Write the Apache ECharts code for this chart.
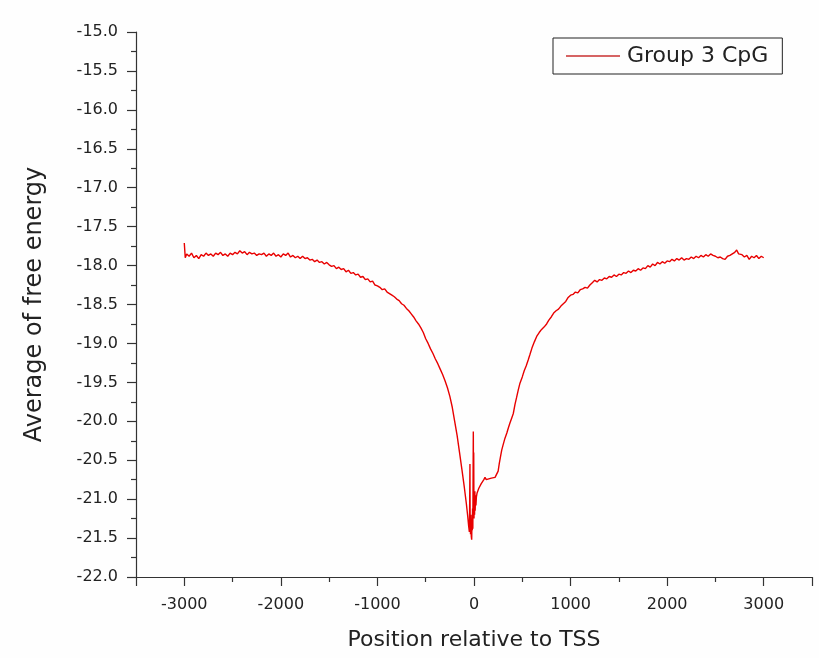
<!DOCTYPE html>
<html>
<head>
<meta charset="utf-8">
<script src="https://cdn.jsdelivr.net/npm/echarts@6/dist/echarts.min.js"></script>
<style>html,body{margin:0;padding:0;background:#fefefe;}#c{width:819px;height:658px;}</style>
</head>
<body>
<div id="c"></div>
<script>
const seriesName = 'Group 3 CpG';
const xTitle = 'Position relative to TSS';
const yTitle = 'Average of free energy';
const xMajorTicks = [-3500,-3000,-2000,-1000,0,1000,2000,3000,3500];
const xLabelTicks = [-3000,-2000,-1000,0,1000,2000,3000];
const xMinorTicks = [-2500,-1500,-500,500,1500,2500];
const positions = [
-3000,-2990,-2975,-2950,-2925,-2900,-2875,-2850,-2825,-2800,-2775,-2750,-2725,-2700,-2675,-2650,-2625,-2600,-2575,-2550,-2525,-2500,
-2475,-2450,-2425,-2400,-2375,-2350,-2325,-2300,-2275,-2250,-2225,-2200,-2175,-2150,-2125,-2100,-2075,-2050,-2025,-2000,
-1975,-1950,-1925,-1900,-1875,-1850,-1825,-1800,-1775,-1750,-1725,-1700,-1675,-1650,-1625,-1600,-1575,-1550,-1525,-1500,
-1475,-1450,-1425,-1400,-1375,-1350,-1325,-1300,-1275,-1250,-1225,-1200,-1175,-1150,-1125,-1100,-1075,-1050,-1025,-1000,
-975,-950,-925,-900,-875,-850,-825,-800,-775,-750,-725,-700,-675,-650,-625,-600,-575,-550,-525,-500,
-475,-450,-425,-400,-375,-350,-325,-300,-275,-250,-225,-200,-175,-150,-125,-100,-80,-65,-55,-48,
-45,-42,-40,-36,-32,-28,-24,-21,-18,-15,-12,-9,-7,-5,-3,0,3,6,9,12,16,20,25,32,40,50,62,75,90,
102,114,127,140,153,166,180,200,218,235,250,262,275,287,300,320,340,357,373,390,407,425,440,458,476,
500,520,540,562,580,600,625,649,675,700,725,752,775,800,825,850,875,900,925,950,975,1000,
1025,1050,1075,1100,1125,1150,1175,1200,1225,1250,1275,1300,1325,1350,1375,1400,1425,1450,1475,1500,
1525,1550,1575,1600,1625,1650,1675,1700,1725,1750,1775,1800,1825,1850,1875,1900,1925,1950,1975,2000,
2025,2050,2075,2100,2125,2150,2175,2200,2225,2250,2275,2300,2325,2350,2375,2400,2425,2450,2475,2500,
2525,2550,2575,2600,2625,2650,2675,2700,2720,2740,2760,2775,2800,2825,2850,2875,2900,2925,2950,2975,3000
];
const energies = [
-17.71,-17.90,-17.85,-17.88,-17.84,-17.90,-17.87,-17.91,-17.86,-17.88,-17.84,-17.87,-17.85,-17.88,-17.84,-17.86,-17.83,-17.87,-17.85,-17.88,-17.84,-17.86,
-17.83,-17.85,-17.81,-17.84,-17.82,-17.86,-17.83,-17.85,-17.84,-17.87,-17.85,-17.86,-17.84,-17.88,-17.85,-17.87,-17.84,-17.88,-17.86,-17.89,
-17.85,-17.87,-17.84,-17.89,-17.87,-17.90,-17.88,-17.91,-17.88,-17.91,-17.90,-17.93,-17.92,-17.95,-17.93,-17.96,-17.95,-17.98,-17.96,-17.99,
-18.01,-18.00,-18.04,-18.02,-18.05,-18.04,-18.08,-18.06,-18.10,-18.09,-18.12,-18.11,-18.15,-18.14,-18.18,-18.17,-18.21,-18.20,-18.25,-18.26,
-18.28,-18.31,-18.30,-18.34,-18.36,-18.38,-18.40,-18.43,-18.45,-18.49,-18.51,-18.55,-18.58,-18.62,-18.66,-18.71,-18.75,-18.80,-18.86,-18.94,
-19.00,-19.07,-19.13,-19.20,-19.26,-19.33,-19.40,-19.48,-19.57,-19.68,-19.82,-20.00,-20.18,-20.40,-20.62,-20.85,-21.05,-21.22,-21.35,-21.42,
-21.10,-20.55,-21.25,-21.45,-21.20,-21.48,-21.52,-21.28,-21.40,-21.12,-21.38,-20.60,-20.13,-21.00,-20.40,-21.25,-20.95,-21.20,-20.90,-21.15,-20.95,-21.08,-20.97,-20.92,-20.90,-20.86,-20.84,-20.80,-20.78,
-20.75,-20.72,-20.75,-20.77,-20.74,-20.76,-20.73,-20.74,-20.72,-20.70,-20.64,-20.54,-20.45,-20.37,-20.31,-20.22,-20.15,-20.08,-20.02,-19.96,-19.90,-19.78,-19.70,-19.60,-19.51,
-19.43,-19.35,-19.29,-19.21,-19.14,-19.06,-18.98,-18.91,-18.86,-18.82,-18.79,-18.75,-18.70,-18.66,-18.61,-18.58,-18.56,-18.52,-18.49,-18.46,-18.41,-18.38,
-18.37,-18.34,-18.35,-18.31,-18.30,-18.28,-18.29,-18.25,-18.22,-18.19,-18.21,-18.18,-18.19,-18.16,-18.17,-18.14,-18.15,-18.12,-18.14,-18.11,
-18.12,-18.09,-18.10,-18.07,-18.09,-18.06,-18.07,-18.04,-18.06,-18.03,-18.04,-18.00,-18.02,-17.98,-18.00,-17.96,-17.98,-17.95,-17.97,-17.94,
-17.95,-17.92,-17.94,-17.91,-17.93,-17.90,-17.93,-17.91,-17.92,-17.89,-17.91,-17.88,-17.90,-17.87,-17.89,-17.86,-17.88,-17.85,-17.87,-17.88,
-17.90,-17.89,-17.91,-17.92,-17.88,-17.87,-17.85,-17.83,-17.80,-17.85,-17.87,-17.86,-17.89,-17.87,-17.92,-17.88,-17.90,-17.87,-17.91,-17.88,-17.90
];

const FONT = 'DejaVu Sans';
const TXT = '#222';
const chart = echarts.init(document.getElementById('c'), null, {renderer: 'canvas'});
const pts = positions.map((p, i) => [p, energies[i]]);
chart.setOption({
  backgroundColor: '#fefefe',
  animation: false,
  grid: {left: 136, right: 7, top: 32, bottom: 81, containLabel: false},
  legend: {
    show: true, left: 553, top: 38, orient: 'horizontal',
    padding: [7, 14, 7, 13], itemGap: 0, itemWidth: 54, itemHeight: 1.6,
    borderColor: '#222', borderWidth: 1, backgroundColor: '#fefefe',
    textStyle: {fontFamily: FONT, fontSize: 22, color: TXT, lineHeight: 22, padding: [0, 0, 0, 2]},
    data: [{name: seriesName, icon: 'rect', itemStyle: {color: '#c83030'}}]
  },
  xAxis: [{
    type: 'value', min: -3500, max: 3500, position: 'bottom',
    name: xTitle, nameLocation: 'middle', nameGap: 52,
    nameTextStyle: {fontFamily: FONT, fontSize: 22, color: TXT},
    axisLine: {show: true, onZero: false, lineStyle: {color: '#333', width: 1.2}},
    axisTick: {show: true, inside: false, length: 9, customValues: xMajorTicks, lineStyle: {color: '#333', width: 1.2}},
    axisLabel: {show: true, customValues: xLabelTicks, margin: 20, fontFamily: FONT, fontSize: 16, color: TXT, formatter: v => String(v)},
    splitLine: {show: false}
  }, {
    type: 'value', min: -3500, max: 3500, position: 'bottom', gridIndex: 0,
    axisLine: {show: false, onZero: false},
    axisTick: {show: true, inside: false, length: 5, customValues: xMinorTicks, lineStyle: {color: '#333', width: 1.2}},
    axisLabel: {show: false},
    splitLine: {show: false}
  }],
  yAxis: {
    type: 'value', min: -22, max: -15, interval: 0.5,
    name: yTitle, nameLocation: 'middle', nameGap: 89, nameRotate: 90,
    nameTextStyle: {fontFamily: FONT, fontSize: 24, color: TXT},
    axisLine: {show: true, onZero: false, lineStyle: {color: '#333', width: 1.2}},
    axisTick: {show: true, inside: false, length: 9, lineStyle: {color: '#333', width: 1.2}},
    minorTick: {show: true, splitNumber: 2, length: 5, lineStyle: {color: '#333', width: 1.2}},
    axisLabel: {margin: 18, fontFamily: FONT, fontSize: 16, color: TXT, formatter: v => v.toFixed(1)},
    splitLine: {show: false}, minorSplitLine: {show: false}
  },
  series: [{
    name: seriesName, type: 'line', xAxisIndex: 0, yAxisIndex: 0, data: pts,
    symbol: 'none', showSymbol: false,
    lineStyle: {color: '#e80000', width: 1.4},
    itemStyle: {color: '#e80000'}
  }]
});
</script>
</body>
</html>
